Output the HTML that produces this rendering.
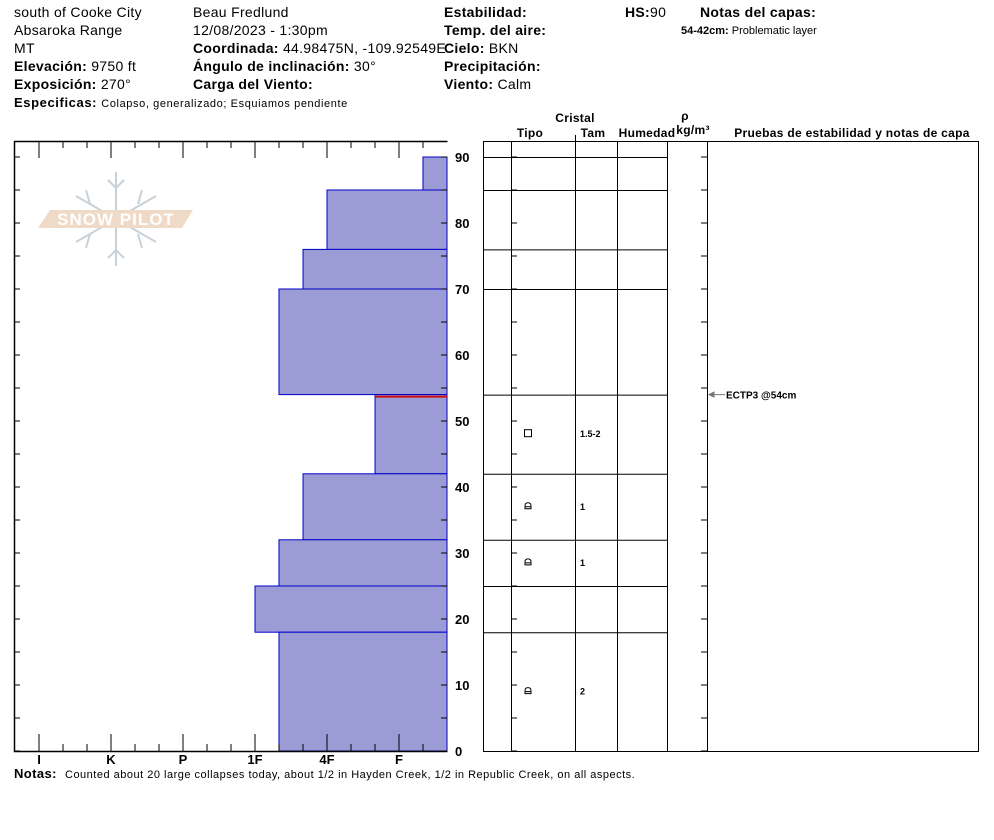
<!DOCTYPE html>
<html><head><meta charset="utf-8"><style>
body{margin:0;background:#fff;font-family:"Liberation Sans",Arial,sans-serif;}
svg{display:block}
</style></head><body>
<svg id="chart" width="994" height="840" viewBox="0 0 994 840" xmlns="http://www.w3.org/2000/svg" font-family="Liberation Sans, Arial, sans-serif">
<g font-size="14" fill="#000" letter-spacing="0.3">
<text x="14" y="17">south of Cooke City</text>
<text x="14" y="35">Absaroka Range</text>
<text x="14" y="53">MT</text>
<text x="14" y="71"><tspan font-weight="bold">Elevación:</tspan> 9750 ft</text>
<text x="14" y="89"><tspan font-weight="bold">Exposición:</tspan> 270°</text>
<text x="14" y="107"><tspan font-weight="bold" font-size="13" letter-spacing="0.6">Especificas:</tspan> <tspan font-size="11" letter-spacing="0.6">Colapso, generalizado; Esquiamos pendiente</tspan></text>
<text x="193" y="17">Beau  Fredlund</text>
<text x="193" y="35">12/08/2023 - 1:30pm</text>
<text x="193" y="53"><tspan font-weight="bold">Coordinada:</tspan> 44.98475N, -109.92549E</text>
<text x="193" y="71"><tspan font-weight="bold">Ángulo de inclinación:</tspan> 30°</text>
<text x="193" y="89" font-weight="bold">Carga del Viento:</text>
<text x="444" y="17" font-weight="bold">Estabilidad:</text>
<text x="444" y="35" font-weight="bold">Temp. del aire:</text>
<text x="444" y="53"><tspan font-weight="bold">Cielo:</tspan> BKN</text>
<text x="444" y="71" font-weight="bold">Precipitación:</text>
<text x="444" y="89"><tspan font-weight="bold">Viento:</tspan>  Calm</text>
<text x="625" y="17"><tspan font-weight="bold">HS:</tspan>90</text>
<text x="700" y="17" font-weight="bold">Notas del capas:</text>
<text x="681" y="34" font-size="11" letter-spacing="0"><tspan font-weight="bold">54-42cm:</tspan> Problematic layer</text>
</g>
<g opacity="0.6">
<g stroke="#a6b3bf" stroke-width="2" fill="none">
<line x1="116" y1="172" x2="116" y2="266"/>
<line x1="76" y1="196" x2="156" y2="242"/>
<line x1="76" y1="242" x2="156" y2="196"/>
<path d="M108,180 L116,188 L124,180 M108,258 L116,250 L124,258 M86,190 L90,204 M142,190 L138,204 M86,248 L90,234 M142,248 L138,234"/>
</g>
<polygon points="50,210 193,210 182,228 38,228" fill="#e6c3a3"/>
<text x="116" y="225" text-anchor="middle" font-size="17" font-weight="bold" fill="#fff" letter-spacing="1">SNOW PILOT</text>
</g>
<g id="plot"></g>
<g id="grid"></g>
<text x="14" y="778" font-size="13" font-weight="bold" letter-spacing="0.4">Notas:</text>
<text x="65" y="778" font-size="11" letter-spacing="0.5">Counted about 20 large collapses today, about 1/2 in Hayden Creek, 1/2 in Republic Creek, on all aspects.</text>
</svg>
<script>
// data
const hardLabels = ["I","K","P","1F","4F","F"];
const layerTop = [90,85,76,70,54,42,32,25,18];
const layerBottom = [85,76,70,54,42,32,25,18,0];
// hardness as index on I..F scale (F=5), thirds for +/-
const layerHard = [5.333,4,3.667,3.333,4.667,3.667,3.333,3,3.333];
const crystalDepth = [48,37,28.5,9];
const crystalType = ["square","rounded","rounded","rounded"];
const crystalSize = ["1.5-2","1","1","2"];
const depthTicks = [0,10,20,30,40,50,60,70,80,90];
const testDepth = [54];
const testLabel = ["ECTP3 @54cm"];

const NS="http://www.w3.org/2000/svg";
const y = d => 751 - d*6.6;
const x = h => 39 + 72*h;
function el(tag, attrs, parent){const e=document.createElementNS(NS,tag);for(const k in attrs)e.setAttribute(k,attrs[k]);parent.appendChild(e);return e;}
const plot=document.getElementById('plot'), grid=document.getElementById('grid');

layerTop.forEach((t,i)=>{
  const r=el('rect',{x:x(layerHard[i]),y:y(t),width:447-x(layerHard[i]),height:y(layerBottom[i])-y(t),fill:'#9b9bd6',stroke:'#0000c8','stroke-width':1},plot);
  
  
});
const pl=el('line',{x1:x(4.667),x2:447,y1:y(54)+2,y2:y(54)+2,stroke:'#d01010','stroke-width':2},plot);


el('path',{d:'M14.5,141 V751.5 H447.5 M14,141.5 H447.5',stroke:'#000',fill:'none','stroke-width':1.5},plot);
for(let h=-1/3;h<=5.67;h+=1/3){
  const hx=x(h); if(hx<16||hx>446)continue;
  const major=Math.abs(h-Math.round(h))<0.01;
  el('line',{x1:hx,x2:hx,y1:751,y2:751-(major?17:7),stroke:'#000'},plot);
  el('line',{x1:hx,x2:hx,y1:141,y2:141+(major?17:7),stroke:'#000'},plot);
}
hardLabels.forEach((l,i)=>{
  const t=el('text',{x:x(i),y:764,'text-anchor':'middle','font-size':13,'font-weight':'bold'},plot);t.textContent=l;
  
  
});
for(let d=0;d<=90;d+=5){
  el('line',{x1:14,x2:20,y1:y(d),y2:y(d),stroke:'#000'},plot);
  el('line',{x1:441,x2:447,y1:y(d),y2:y(d),stroke:'#000'},plot);
  el('line',{x1:511,x2:517,y1:y(d),y2:y(d),stroke:'#000'},grid);
  el('line',{x1:701,x2:707,y1:y(d),y2:y(d),stroke:'#000'},grid);
}
depthTicks.forEach(d=>{
  const t=el('text',{x:455,y:y(d)+5,'font-size':13,'font-weight':'bold'},plot);t.textContent=d;
  
  
});
el('rect',{x:483.5,y:141.5,width:495,height:610,fill:'none',stroke:'#000'},grid);
[511,575,617,667,707].forEach(cx=>el('line',{x1:cx+.5,x2:cx+.5,y1:141,y2:751,stroke:'#000'},grid));
el('line',{x1:575.5,x2:575.5,y1:135,y2:141,stroke:'#000'},grid);
layerTop.forEach(t=>el('line',{x1:483,x2:667,y1:y(t)+.5,y2:y(t)+.5,stroke:'#000'},grid));
[['Cristal',575,122],['Tipo',530,137],['Tam',593,137],['Humedad',647,137],['ρ',685,120],['kg/m³',693,134],['Pruebas de estabilidad y notas de capa',852,137]].forEach(a=>{
  const t=el('text',{x:a[1],y:a[2],'text-anchor':'middle','font-size':12,'font-weight':'bold','letter-spacing':0.3},grid);t.textContent=a[0];
  
  
});
crystalDepth.forEach((d,i)=>{
  const cy=y(d);
  let g;
  if(crystalType[i]==='square') g=el('rect',{x:524.5,y:cy-4.5,width:7,height:7,fill:'none',stroke:'#000'},grid);
  else g=el('path',{d:`M525,${cy+2} V${cy-1} Q525,${cy-4} 528,${cy-4} Q531,${cy-4} 531,${cy-1} V${cy+2} Z M525,${cy} H531`,fill:'none',stroke:'#000'},grid);
  
  
  const t=el('text',{x:580,y:cy+3,'font-size':9,'font-weight':'bold'},grid);t.textContent=crystalSize[i];
  
  
});
testDepth.forEach((d,i)=>{
  el('path',{d:`M709,${y(d)} h16 M709,${y(d)} l5,-2.5 v5 z`,stroke:'#777',fill:'#777'},grid);
  const t=el('text',{x:726,y:y(d)+4,'font-size':10,'font-weight':'bold'},grid);t.textContent=testLabel[i];
  
  
});
</script>
</body></html>
